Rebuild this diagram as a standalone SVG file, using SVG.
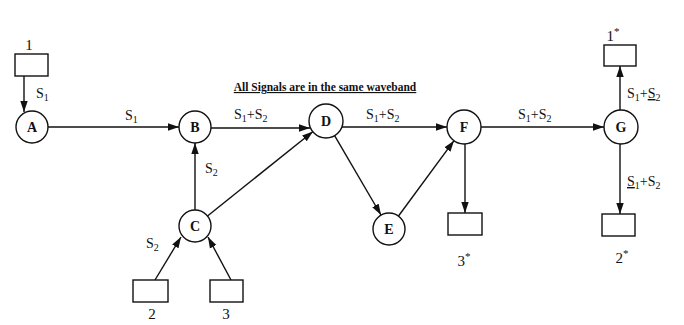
<svg xmlns="http://www.w3.org/2000/svg" width="684" height="325" viewBox="0 0 684 325">
  <style>
    .node circle { fill: #fff; stroke: #111; stroke-width: 1.4; }
    .node rect { fill: #fff; stroke: #111; stroke-width: 1.4; }
    .nl { font-family: "Liberation Serif", "Times New Roman", serif; font-size: 14px; font-weight: bold; fill: #111; text-anchor: middle; dominant-baseline: central; }
    .bl { font-family: "Liberation Serif", "Times New Roman", serif; font-size: 15px; fill: #111; text-anchor: middle; }
    .el { font-family: "Liberation Serif", "Times New Roman", serif; font-size: 14px; fill: #111; }
    .sub { font-size: 10px; }
    .edges line { stroke: #111; stroke-width: 1.4; marker-end: url(#arrow); }
    .title { font-family: "Liberation Serif", "Times New Roman", serif; font-size: 11.5px; font-weight: bold; fill: #111; text-anchor: middle; text-decoration: underline; }
  </style>
  <defs>
    <marker id="arrow" markerUnits="userSpaceOnUse" markerWidth="12" markerHeight="9" refX="11" refY="4.5" orient="auto">
      <path d="M0,0.8 L11,4.5 L0,8.2 Z" fill="#111"/>
    </marker>
  </defs>

  <rect width="684" height="325" fill="#fff"/>

  <text class="title" x="325" y="91">All Signals are in the same waveband</text>

  <!-- connectors -->
  <g class="edges">
    <line x1="24" y1="76" x2="24" y2="112"/>
    <line x1="48" y1="127" x2="179" y2="127"/>
    <line x1="211" y1="128" x2="310" y2="128"/>
    <line x1="342" y1="127" x2="447" y2="127"/>
    <line x1="481" y1="127" x2="604" y2="127"/>
    <line x1="195" y1="210" x2="195" y2="143"/>
    <line x1="207.5" y1="216" x2="313" y2="131.5"/>
    <line x1="155" y1="280" x2="181" y2="237"/>
    <line x1="231" y1="280" x2="208" y2="237"/>
    <line x1="334.6" y1="135.7" x2="381" y2="215"/>
    <line x1="398.5" y1="216" x2="454" y2="140.7"/>
    <line x1="465" y1="144" x2="465" y2="213"/>
    <line x1="620" y1="110" x2="620" y2="66"/>
    <line x1="620" y1="144" x2="620" y2="214"/>
  </g>

  <!-- connector labels -->
  <g class="labels">
    <text class="el" x="36" y="98">S<tspan class="sub" dy="3">1</tspan></text>
    <text class="el" x="125" y="120">S<tspan class="sub" dy="3">1</tspan></text>
    <text class="el" x="234" y="119">S<tspan class="sub" dy="3">1</tspan><tspan dy="-3">+S</tspan><tspan class="sub" dy="3">2</tspan></text>
    <text class="el" x="366" y="119">S<tspan class="sub" dy="3">1</tspan><tspan dy="-3">+S</tspan><tspan class="sub" dy="3">2</tspan></text>
    <text class="el" x="518" y="119">S<tspan class="sub" dy="3">1</tspan><tspan dy="-3">+S</tspan><tspan class="sub" dy="3">2</tspan></text>
    <text class="el" x="205" y="173">S<tspan class="sub" dy="3">2</tspan></text>
    <text class="el" x="146" y="248">S<tspan class="sub" dy="3">2</tspan></text>
    <text class="el" x="627" y="98">S<tspan class="sub" dy="3">1</tspan><tspan dy="-3">+</tspan><tspan text-decoration="underline">S</tspan><tspan class="sub" dy="3">2</tspan></text>
    <text class="el" x="627" y="186"><tspan text-decoration="underline">S</tspan><tspan class="sub" dy="3">1</tspan><tspan dy="-3">+S</tspan><tspan class="sub" dy="3">2</tspan></text>
  </g>

  <!-- circle nodes -->
  <g id="node-A" class="node"><circle cx="32" cy="127" r="16"/><text class="nl" x="32" y="127">A</text></g>
  <g id="node-B" class="node"><circle cx="195" cy="127" r="16"/><text class="nl" x="195" y="127">B</text></g>
  <g id="node-C" class="node"><circle cx="195" cy="226" r="16"/><text class="nl" x="195" y="226">C</text></g>
  <g id="node-D" class="node"><circle cx="326" cy="121" r="17"/><text class="nl" x="326" y="121">D</text></g>
  <g id="node-E" class="node"><circle cx="389" cy="229" r="16"/><text class="nl" x="389" y="229">E</text></g>
  <g id="node-F" class="node"><circle cx="464" cy="127" r="17"/><text class="nl" x="464" y="127">F</text></g>
  <g id="node-G" class="node"><circle cx="621" cy="127" r="17"/><text class="nl" x="621" y="127">G</text></g>

  <!-- sources -->
  <g id="src-1" class="node"><rect x="15" y="54" width="33" height="22"/><text class="bl" x="29" y="50">1</text></g>
  <g id="src-2" class="node"><rect x="133" y="280" width="35" height="22"/><text class="bl" x="152" y="319">2</text></g>
  <g id="src-3" class="node"><rect x="210" y="280" width="33" height="22"/><text class="bl" x="226" y="319">3</text></g>

  <!-- destinations -->
  <g id="dst-1" class="node"><rect x="604" y="45" width="32" height="21"/><text class="bl" x="613" y="41">1<tspan font-size="11" dy="-6">*</tspan></text></g>
  <g id="dst-2" class="node"><rect x="602" y="214" width="33" height="22"/><text class="bl" x="622" y="263">2<tspan font-size="11" dy="-6">*</tspan></text></g>
  <g id="dst-3" class="node"><rect x="448" y="213" width="34" height="22"/><text class="bl" x="464" y="266">3<tspan font-size="11" dy="-6">*</tspan></text></g>
</svg>
